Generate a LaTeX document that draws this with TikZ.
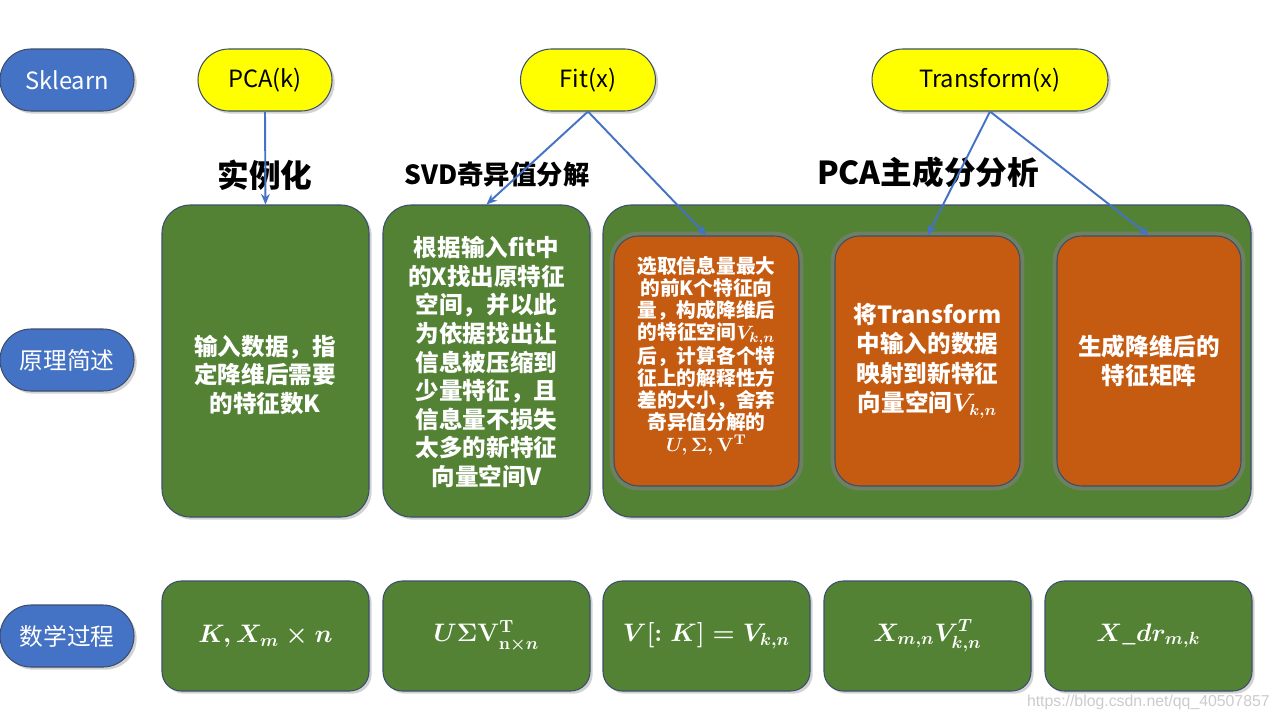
\documentclass[tikz,border=0pt]{standalone}
\usepackage[no-math]{fontspec}
\usepackage{amsmath}
\usepackage{bm}
\setmainfont{Noto Sans CJK SC}
\newfontfamily\markfont{Liberation Sans}
\usetikzlibrary{shapes.misc,shadows,arrows.meta}
\definecolor{green}{RGB}{84,130,53}
\definecolor{orange}{RGB}{197,90,17}
\definecolor{blue}{RGB}{68,114,196}
\definecolor{yellow}{RGB}{255,255,0}
\definecolor{border}{RGB}{60,78,110}

\begin{document}
\begin{tikzpicture}[x=0.02cm,y=-0.02cm]

\def\px{0.02cm}

\tikzset{line/.style={draw=border,semithick}}
\tikzset{arrow/.style={draw=blue,line width=1.1pt,-{Stealth[length=6pt,width=5pt]}}}
\tikzset{shade/.style={drop shadow={opacity=0.35,shadow xshift=1.5pt,shadow yshift=-1.5pt}}}
\tikzset{pill/.style={line,shade,rounded rectangle,minimum width=134*\px,minimum height=62*\px,inner sep=0pt,font=\fontsize{13.5}{16}\selectfont}}
\tikzset{bluepill/.style={pill,fill=blue,text=white}}
\tikzset{yellowpill/.style={pill,fill=yellow,text=black}}
\tikzset{heading/.style={inner sep=0pt,font=\bfseries\fontsize{18}{20}\selectfont}}
\tikzset{greenbox/.style={line,shade,fill=green,rounded corners=16pt,inner sep=0pt}}
\tikzset{mathbox/.style={greenbox,rounded corners=11pt,minimum width=207*\px,minimum height=110*\px}}
\tikzset{orangebox/.style={line,fill=orange,rounded corners=14pt,inner sep=0pt,preaction={draw=gray,line width=5pt,opacity=0.6}}}
\tikzset{boxtext/.style={text=white,align=center,inner sep=0pt,font=\bfseries\boldmath\fontsize{13.4}{16.3}\selectfont}}
\tikzset{smalltext/.style={boxtext,font=\bfseries\boldmath\fontsize{11.2}{12.5}\selectfont}}
\tikzset{mathtext/.style={text=white,inner sep=0pt,font=\boldmath\fontsize{14}{16}\selectfont}}

\useasboundingbox[fill=white] (0,0) rectangle (1280,720);

% left column
\node[bluepill] (sklearn) at (67,80) {Sklearn};
\node[bluepill] (principle) at (67,360) {原理简述};
\node[bluepill] (maths) at (67,636) {数学过程};

% sklearn calls
\node[yellowpill] (pca) at (265,80) {PCA(k)};
\node[yellowpill,minimum width=135*\px] (fit) at (588,80) {Fit(x)};
\node[yellowpill,minimum width=236*\px] (transform) at (990,80) {Transform(x)};

\node[heading] (inst) at (265,175) {实例化};
\node[heading,font=\bfseries\fontsize{15}{18}\selectfont] (svd) at (497,175) {SVD奇异值分解};
\node[heading] (pcaana) at (928,172) {PCA主成分分析};

% principle boxes
\node[greenbox,minimum width=207*\px,minimum height=312*\px] (box1) at (265.5,361) {};
\node[greenbox,minimum width=207*\px,minimum height=312*\px] (box2) at (486.5,361) {};
\node[greenbox,minimum width=648*\px,minimum height=312*\px] (pcabox) at (927,361) {};

\node[orangebox,minimum width=185*\px,minimum height=250*\px] (select) at (706.5,361) {};
\node[orangebox,minimum width=185*\px,minimum height=250*\px] (project) at (927.5,361) {};
\node[orangebox,minimum width=184*\px,minimum height=250*\px] (reduced) at (1149,361) {};

\node[boxtext] (text1) at (265,375) {输入数据，指\\定降维后需要\\的特征数K};
\node[boxtext] (text2) at (486.5,362) {根据输入fit中\\的X找出原特征\\空间，并以此\\为依据找出让\\信息被压缩到\\少量特征，且\\信息量不损失\\太多的新特征\\向量空间V};
\node[smalltext] (text3) at (706.5,356) {选取信息量最大\\的前K个特征向\\量，构成降维后\\的特征空间$V_{k,n}$\\后，计算各个特\\征上的解释性方\\差的大小，舍弃\\奇异值分解的\\$U,\Sigma,\mathbf{V}^{\mathbf{T}}$};
\node[boxtext,font=\bfseries\boldmath\fontsize{13.4}{16.7}\selectfont] (text4) at (927.5,361) {将Transform\\中输入的数据\\映射到新特征\\向量空间$V_{k,n}$};
\node[boxtext] (text5) at (1149,361) {生成降维后的\\特征矩阵};

% maths boxes
\node[mathbox] (m1) at (265.5,636) {};
\node[mathbox] (m2) at (486.5,636) {};
\node[mathbox] (m3) at (706.5,636) {};
\node[mathbox] (m4) at (927.5,636) {};
\node[mathbox] (m5) at (1148.5,636) {};

\node[mathtext] (f1) at (m1) {$K,X_m\times n$};
\node[mathtext] (f2) at (m2) {$U\Sigma\mathbf{V}^{\mathbf{T}}_{\mathbf{n}\times n}$};
\node[mathtext] (f3) at (m3) {$V[:K]=V_{k,n}$};
\node[mathtext] (f4) at (m4) {$X_{m,n}V^{T}_{k,n}$};
\node[mathtext] (f5) at (m5) {$X\_dr_{m,k}$};

\node[text=gray!40,inner sep=0pt,anchor=east,font=\markfont\fontsize{9}{11}\selectfont] (mark) at (1270,702) {https://blog.csdn.net/qq\_40507857};

% calls
\path[arrow] (pca.south) to (box1.north);
\path[arrow] (fit.south) to (box2.north);
\path[arrow] (fit.south) to (select.north);
\path[arrow] (transform.south) to (project.north);
\path[arrow] (transform.south) to (reduced.north);

\end{tikzpicture}
\end{document}
